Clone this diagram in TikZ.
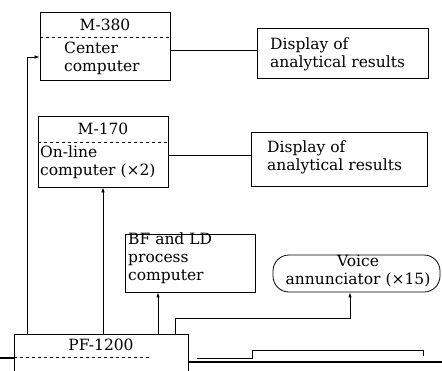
\documentclass[tikz,border=0pt]{standalone}
\usepackage{fontspec}
\setmainfont{DejaVu Serif}
\usetikzlibrary{arrows.meta,calc}
\begin{document}
\begin{tikzpicture}[x=1pt,y=-1pt,
  every node/.style={font=\fontsize{15.5}{18}\selectfont},
  box/.style={draw,line width=0.8pt,inner sep=0pt},
  conn/.style={line width=0.8pt},
  arr/.style={line width=0.8pt,-{Latex[length=5pt,width=3.5pt]}},
  txt/.style={inner sep=0pt,align=left,anchor=west}]
\useasboundingbox (0,0) rectangle (442,370);
% M-380
\node[box,minimum width=130pt,minimum height=68pt] (m380) at (105,46) {};
\draw[dashed,line width=0.8pt] (40,37) -- (170,37);
\node[inner sep=0pt] (m380t) at (105,25) {M-380};
\node[txt] (m380b) at (64,58) {Center\\computer};
% Display 1
\node[box,minimum width=171pt,minimum height=50pt] (d1) at (342.5,53) {};
\node[txt] (d1t) at (270,54) {Display of\\analytical results};
% M-170
\node[box,minimum width=130pt,minimum height=71pt] (m170) at (103,151.5) {};
\draw[dashed,line width=0.8pt] (38,142) -- (168,142);
\node[inner sep=0pt] (m170t) at (103,129) {M-170};
\node[txt] (m170b) at (40,162) {On-line\\computer (×2)};
% Display 2
\node[box,minimum width=176pt,minimum height=54pt] (d2) at (339,159) {};
\node[txt] (d2t) at (267,157) {Display of\\analytical results};
% BF and LD
\node[box,minimum width=130pt,minimum height=58pt] (bf) at (190,263) {};
\node[txt] (bft) at (128,258) {BF and LD\\process\\computer};
% Voice
\node[box,rounded corners=16pt,minimum width=167pt,minimum height=37pt] (voice) at (356.5,273.5) {};
\node[inner sep=0pt,align=center] (voicet) at (358,271) {Voice\\annunciator (×15)};
% PF-1200
\node[box,minimum width=174pt,minimum height=46pt] (pf) at (101,357) {};
\node[inner sep=0pt] (pft) at (101,345) {PF-1200};
\draw[dashed,line width=0.8pt] (14,357) -- (150,357);
\draw[line width=2.5pt] (0,358) -- (14,358);
% connectors
\draw[conn] (m380.east |- 0,50) -- (d1.west |- 0,50);
\draw[conn] (m170.east |- 0,155) -- (d2.west |- 0,155);
\draw[arr] (pf.north -| 27,0) -- (27,57) -- (m380.west |- 0,57);
\draw[arr] (pf.north -| 103,0) -- (m170.south -| 103,0);
\draw[arr] (pf.north -| 158,0) -- (bf.south -| 158,0);
\coordinate (v1) at (175,318);
\coordinate (v2) at (350,318);
\draw[arr] (pf.north -| 175,0) -- (v1) -- (v2) -- (voice.south -| 350,0);
% bottom right (cut off)
\coordinate (b1) at (197,358);
\coordinate (b2) at (252,358);
\coordinate (b3) at (252,350);
\coordinate (b4) at (423,350);
\coordinate (b5) at (423,356);
\draw[conn] (b1) -- (b2) -- (b3) -- (b4) -- (b5);
\coordinate (c1) at (442,362);
\draw[line width=1.5pt] (pf.east |- 0,362) -- (c1);
\end{tikzpicture}
\end{document}
